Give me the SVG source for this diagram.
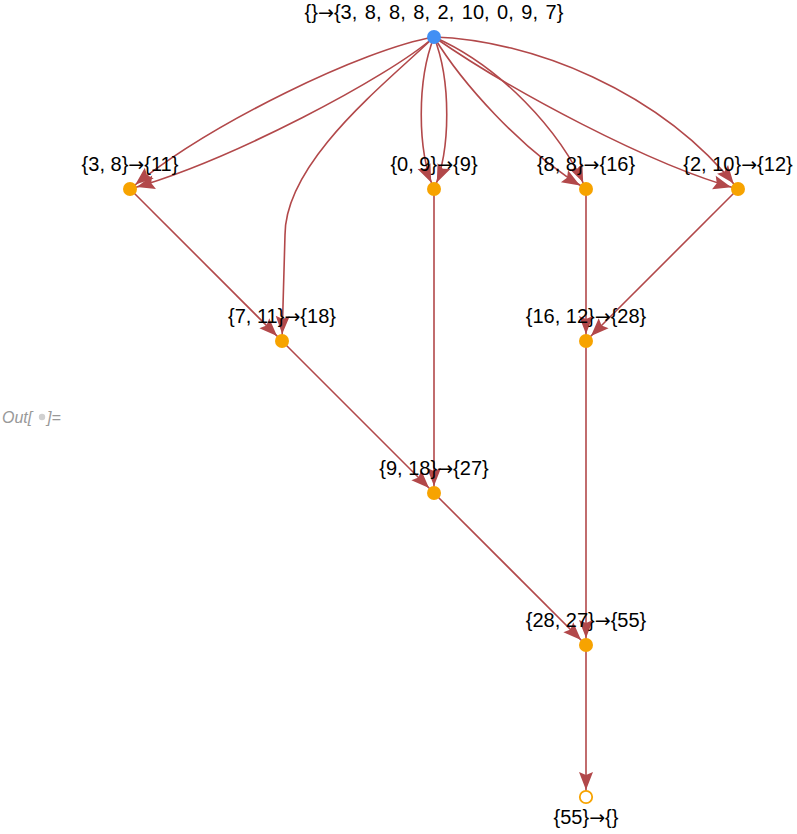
<svg xmlns="http://www.w3.org/2000/svg" width="797" height="834" viewBox="0 0 797 834">
<style>
.e{fill:none;stroke:#b2484a;stroke-width:1.6;marker-end:url(#ah)}
.n{fill:#f7a300}
.lbl{font-family:"Liberation Sans",Arial,sans-serif;font-size:20px;fill:#000;text-anchor:middle}
.ar{font-family:"DejaVu Sans",sans-serif;font-size:19px}
.out{font-family:"Liberation Sans",Arial,sans-serif;font-size:16px;font-style:italic;fill:#999}
</style>
<defs>
<marker id="ah" markerUnits="userSpaceOnUse" markerWidth="40" markerHeight="20" viewBox="-20 -10 40 20" refX="7" refY="0" orient="auto" overflow="visible">
<path d="M-18,-7 L0,0 L-18,7 L-15,0 Z" fill="#b2484a"/>
</marker>
</defs>
<rect width="797" height="834" fill="#fff"/>
<g id="out-label">
<text class="out" x="2" y="423">Out[</text>
<circle cx="42" cy="417" r="3.2" fill="#d0d0d0"/>
<text class="out" x="47" y="423">]=</text>
</g>
<g id="connectors">
<path class="e" d="M434,37 C364,49 210,123 130,189"/>
<path class="e" d="M434,37 C389,77 230,161 130,189"/>
<path class="e" d="M434,37 C390,80 285,160 285,235 L282,341"/>
<path class="e" d="M434,37 C417,80 417,150 434,189"/>
<path class="e" d="M434,37 C451,80 451,150 434,189"/>
<path class="e" d="M434,37 C460,80 520,150 586,189"/>
<path class="e" d="M434,37 C500,66 560,130 586,189"/>
<path class="e" d="M434,37 C510,90 650,165 738,189"/>
<path class="e" d="M434,37 C530,40 660,90 738,189"/>
<path class="e" d="M130,189 L282,341"/>
<path class="e" d="M434,189 L434,493"/>
<path class="e" d="M586,189 L586,341"/>
<path class="e" d="M738,189 L586,341"/>
<path class="e" d="M282,341 L434,493"/>
<path class="e" d="M586,341 L586,645"/>
<path class="e" d="M434,493 L586,645"/>
<path class="e" d="M586,645 L586,797"/>
</g>
<g id="n0"><circle cx="434" cy="37" r="7" fill="#418ff4"/><text class="lbl" x="434" y="19" word-spacing="2px">{}<tspan class="ar">→</tspan>{3, 8, 8, 8, 2, 10, 0, 9, 7}</text></g>
<g id="n1"><circle class="n" cx="130" cy="189" r="7"/><text class="lbl" x="130" y="171">{3, 8}<tspan class="ar">→</tspan>{11}</text></g>
<g id="n2"><circle class="n" cx="434" cy="189" r="7"/><text class="lbl" x="434" y="171">{0, 9}<tspan class="ar">→</tspan>{9}</text></g>
<g id="n3"><circle class="n" cx="586" cy="189" r="7"/><text class="lbl" x="586" y="171">{8, 8}<tspan class="ar">→</tspan>{16}</text></g>
<g id="n4"><circle class="n" cx="738" cy="189" r="7"/><text class="lbl" x="738" y="171">{2, 10}<tspan class="ar">→</tspan>{12}</text></g>
<g id="n5"><circle class="n" cx="282" cy="341" r="7"/><text class="lbl" x="282" y="323">{7, 11}<tspan class="ar">→</tspan>{18}</text></g>
<g id="n6"><circle class="n" cx="586" cy="341" r="7"/><text class="lbl" x="586" y="323">{16, 12}<tspan class="ar">→</tspan>{28}</text></g>
<g id="n7"><circle class="n" cx="434" cy="493" r="7"/><text class="lbl" x="434" y="475">{9, 18}<tspan class="ar">→</tspan>{27}</text></g>
<g id="n8"><circle class="n" cx="586" cy="645" r="7"/><text class="lbl" x="586" y="627">{28, 27}<tspan class="ar">→</tspan>{55}</text></g>
<g id="n9"><circle cx="586" cy="797" r="6.2" fill="#fff" stroke="#f7a300" stroke-width="1.8"/><text class="lbl" x="586" y="824">{55}<tspan class="ar">→</tspan>{}</text></g>
</svg>
